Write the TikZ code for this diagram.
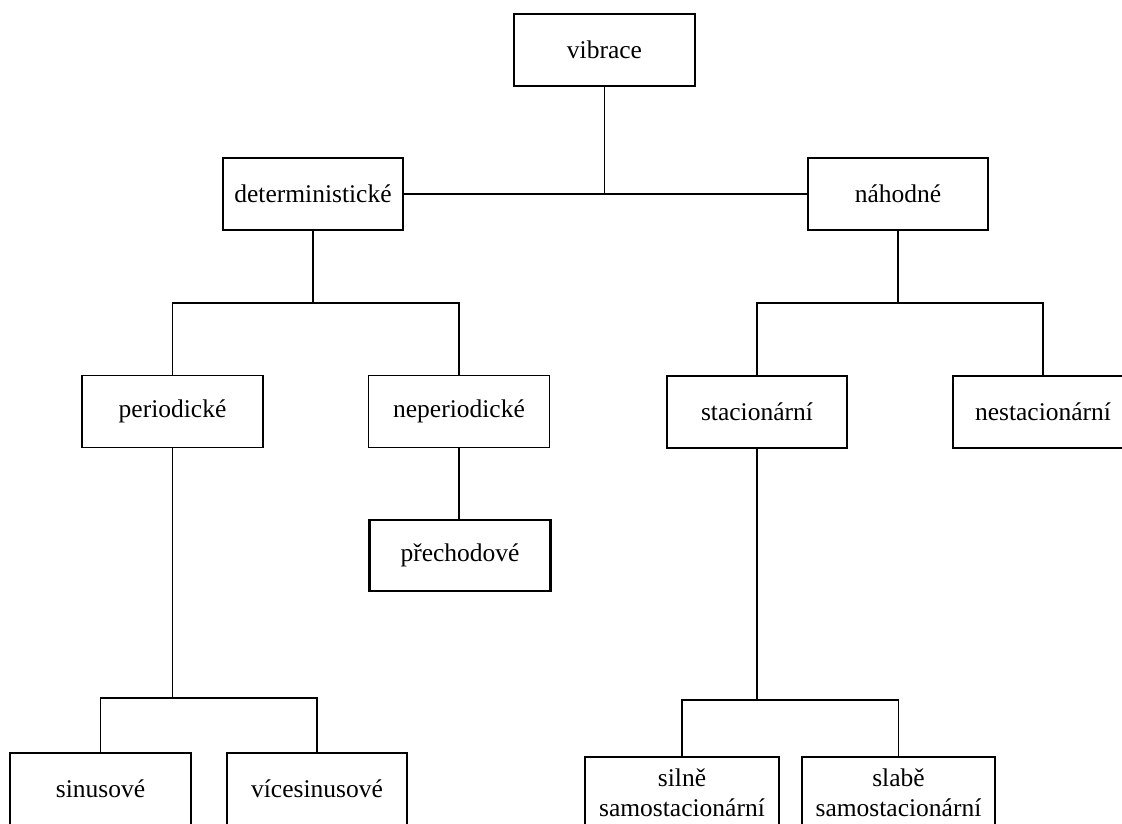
\documentclass[tikz,border=0pt]{standalone}
\usepackage{fontspec}
\setmainfont{Liberation Serif}
\usetikzlibrary{positioning, calc}
\tikzset{
    klass/.style={rectangle, draw, line width=1.8pt, minimum width=181pt, minimum height=72pt, inner sep=0pt, align=center, font=\fontsize{25.5}{30}\selectfont},
    link/.style={draw, line width=1.8pt}
}
\begin{document}
\begin{tikzpicture}[x=1pt, y=-1pt]
    \useasboundingbox (0,0) rectangle (1122,823);
    \clip (0,0) rectangle (1122,823);

    % Root and first split
    \node[klass] (vibrace) at (604.5,50) {vibrace};
    \node[klass, minimum width=180pt] (determ) at (313,194) {deterministické};
    \node[klass, minimum width=180pt] (nahodne) at (898,194) {náhodné};

    % Second level
    \node[klass] (period) at (172.5,411.5) {periodické};
    \node[klass] (neperiod) at (459,411.5) {neperiodické};
    \node[klass, minimum width=180pt] (stac) at (757,412) {stacionární};
    \node[klass, minimum width=180pt] (nestac) at (1043,412) {nestacionární};
    \node[klass, line width=2.4pt, minimum height=71pt] (prech) at (460,555.5) {přechodové};

    % Bottom row
    \node[klass] (sinus) at (100.5,789) {sinusové};
    \node[klass, minimum width=180pt] (visinus) at (317,789) {vícesinusové};
    \node[klass, minimum width=194pt] (silne) at (682,793) {silně\\samostacionární};
    \node[klass, minimum width=193pt] (slabe) at (898.5,793) {slabě\\samostacionární};

    % Fork points
    \path (determ.south) ++(0,72) coordinate (detfork);
    \path (nahodne.south) ++(0,72) coordinate (nahfork);
    \path (period.south) ++(0,249.5) coordinate (perfork);
    \path (stac.south) ++(0,251) coordinate (stacfork);

    % Connectors
    \draw[link] (determ.east) -- (nahodne.west);
    \draw[link] (vibrace.south) -- (vibrace.south |- determ.east);
    \draw[link] (determ.south) -- (detfork);
    \draw[link] (period.north) |- (detfork) -| (neperiod.north);
    \draw[link] (nahodne.south) -- (nahfork);
    \draw[link] (stac.north) |- (nahfork) -| (nestac.north);
    \draw[link] (neperiod.south) -- (neperiod.south |- prech.north);
    \draw[link] (period.south) -- (perfork);
    \draw[link] (sinus.north) |- (perfork) -| (visinus.north);
    \draw[link] (stac.south) -- (stacfork);
    \draw[link] (silne.north) |- (stacfork) -| (slabe.north);
\end{tikzpicture}
\end{document}
